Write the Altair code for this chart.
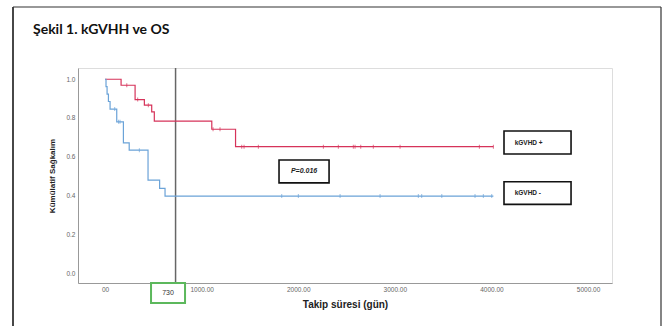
import altair as alt
import pandas as pd

# Kaplan-Meier step curves (time in days, cumulative survival)
red_times = [0, 166, 311, 407, 483, 510, 1105, 1351]
red_surv = [1.0, 0.969, 0.895, 0.866, 0.832, 0.784, 0.742, 0.652]
red_end = 4020
red_censored = [225, 338, 448, 1118, 1190, 1415, 1439, 1587, 2260, 2415,
                2570, 2588, 2647, 2777, 3054, 3875, 4020]

blue_times = [0, 10, 21, 35, 52, 121, 190, 250, 445, 565, 621]
blue_surv = [1.0, 0.962, 0.923, 0.885, 0.846, 0.780, 0.672, 0.634, 0.479, 0.437, 0.397]
blue_end = 4020
blue_censored = [100, 140, 155, 355, 1829, 2001, 2433, 2847, 3243, 3278,
                 3486, 3830, 3916, 4003]

RED = "#d6335a"
BLUE = "#6ba3d8"

x_ticks = [0, 1000, 2000, 3000, 4000, 5000]
y_ticks = [0.0, 0.2, 0.4, 0.6, 0.8, 1.0]
X_DOMAIN = [-280, 5248]
Y_DOMAIN = [-0.0516, 1.058]
W, H = 534, 215


def step_frame(times, surv, end, group):
    rows = [{"t": t, "s": s, "g": group} for t, s in zip(times, surv)]
    rows.append({"t": end, "s": surv[-1], "g": group})
    return pd.DataFrame(rows)


def censor_frame(cens, times, surv, group):
    rows = []
    for c in cens:
        s = surv[0]
        for t, v in zip(times, surv):
            if t <= c:
                s = v
        rows.append({"t": c, "s": s, "g": group})
    return pd.DataFrame(rows)


curves = pd.concat([
    step_frame(red_times, red_surv, red_end, "kGVHD +"),
    step_frame(blue_times, blue_surv, blue_end, "kGVHD -"),
])
censors = pd.concat([
    censor_frame(red_censored, red_times, red_surv, "kGVHD +"),
    censor_frame(blue_censored, blue_times, blue_surv, "kGVHD -"),
])

xs = alt.Scale(domain=X_DOMAIN, nice=False, zero=False)
ys = alt.Scale(domain=Y_DOMAIN, nice=False, zero=False)
color = alt.Color("g:N", scale=alt.Scale(domain=["kGVHD +", "kGVHD -"], range=[RED, BLUE]),
                  legend=None)

axis_style = dict(grid=False, ticks=False, domainColor="#999", domainWidth=1,
                  labelFont="Liberation Sans", labelFontSize=6.5, labelColor="#666",
                  titleFont="Liberation Sans", titleFontWeight="bold", titleColor="#222",
                  labelPadding=3)

x_enc = alt.X("t:Q", scale=xs, axis=alt.Axis(
    values=x_ticks, title="Takip süresi (gün)",
    labelExpr="datum.value == 0 ? '00' : format(datum.value, '.2f')",
    titleFontSize=10, titlePadding=7, **axis_style))
y_enc = alt.Y("s:Q", scale=ys, axis=alt.Axis(
    values=y_ticks, format=".1f", title="Kümülatif Sağkalım",
    titleFontSize=8, titlePadding=9, **axis_style))

lines = alt.Chart(curves).mark_line(interpolate="step-after", strokeWidth=1.2).encode(
    x=x_enc, y=y_enc, color=color, detail="g:N")

ticks = alt.Chart(censors).mark_tick(orient="vertical", size=4, thickness=1).encode(
    x="t:Q", y="s:Q", color=color)

# 730-day reference line
cut = pd.DataFrame({"t": [730], "y0": [Y_DOMAIN[1]], "y1": [Y_DOMAIN[0]]})
cut_rule = alt.Chart(cut).mark_rule(color="#666", strokeWidth=1.5).encode(
    x="t:Q", y="y0:Q", y2="y1:Q")

# Annotation boxes
box_x0 = [1801, 4130, 4130]
box_x1 = [2319, 4824, 4824]
box_y0 = [0.583, 0.733, 0.471]
box_y1 = [0.465, 0.614, 0.354]
boxes = pd.DataFrame({"x0": box_x0, "x1": box_x1, "y0": box_y0, "y1": box_y1})
box_marks = alt.Chart(boxes).mark_rect(fill="white", stroke="#111", strokeWidth=1.6).encode(
    x="x0:Q", x2="x1:Q", y="y0:Q", y2="y1:Q")

pval = pd.DataFrame({"t": [2060], "s": [0.524], "label": ["P=0.016"]})
p_text = alt.Chart(pval).mark_text(fontSize=7, fontWeight="bold", fontStyle="italic",
                                   font="Liberation Sans", color="#222").encode(
    x="t:Q", y="s:Q", text="label:N")

leg = pd.DataFrame({"t": [4240, 4240], "s": [0.673, 0.412], "label": ["kGVHD +", "kGVHD -"]})
leg_text = alt.Chart(leg).mark_text(fontSize=6.5, fontWeight="bold", align="left",
                                    font="Liberation Sans", color="#222").encode(
    x="t:Q", y="s:Q", text="label:N")

green = pd.DataFrame({"x0": [476], "x1": [828], "y0": [-0.052], "y1": [-0.155]})
green_box = alt.Chart(green).mark_rect(fill="white", stroke="#5cb85c", strokeWidth=2).encode(
    x="x0:Q", x2="x1:Q", y="y0:Q", y2="y1:Q")
green_lbl = pd.DataFrame({"t": [652], "s": [-0.104], "label": ["730"]})
green_text = alt.Chart(green_lbl).mark_text(fontSize=7, font="Liberation Sans",
                                            color="#333").encode(
    x="t:Q", y="s:Q", text="label:N")

# Figure frame and heading
frame_left = alt.Chart(pd.DataFrame({"k": [0]})).mark_rule(color="#333", strokeWidth=1.8).encode(
    x=alt.value(-65), y=alt.value(-61), y2=alt.value(H + 50))
frame_top = alt.Chart(pd.DataFrame({"k": [0]})).mark_rule(color="#333", strokeWidth=1.2).encode(
    x=alt.value(-65), x2=alt.value(583), y=alt.value(-61))
frame_right = alt.Chart(pd.DataFrame({"k": [0]})).mark_rule(color="#333", strokeWidth=1.2).encode(
    x=alt.value(583), y=alt.value(-61), y2=alt.value(H + 50))
heading = alt.Chart(pd.DataFrame({"k": [0]})).mark_text(
    text="Şekil 1. kGVHH ve OS", fontSize=14, fontWeight="bold", font="Lato",
    align="left", baseline="alphabetic", color="#111").encode(
    x=alt.value(-45), y=alt.value(-34))

chart = alt.layer(
    cut_rule, lines, ticks, box_marks, p_text, leg_text, green_box, green_text,
    frame_left, frame_top, frame_right, heading
).properties(
    width=W, height=H,
    autosize=alt.AutoSizeParams(type="none"),
    padding={"left": 78, "top": 68, "right": 53, "bottom": 43},
).configure_view(stroke=None).configure(background="white")

chart.save("out.html", embed_options={"renderer": "svg", "actions": False})
